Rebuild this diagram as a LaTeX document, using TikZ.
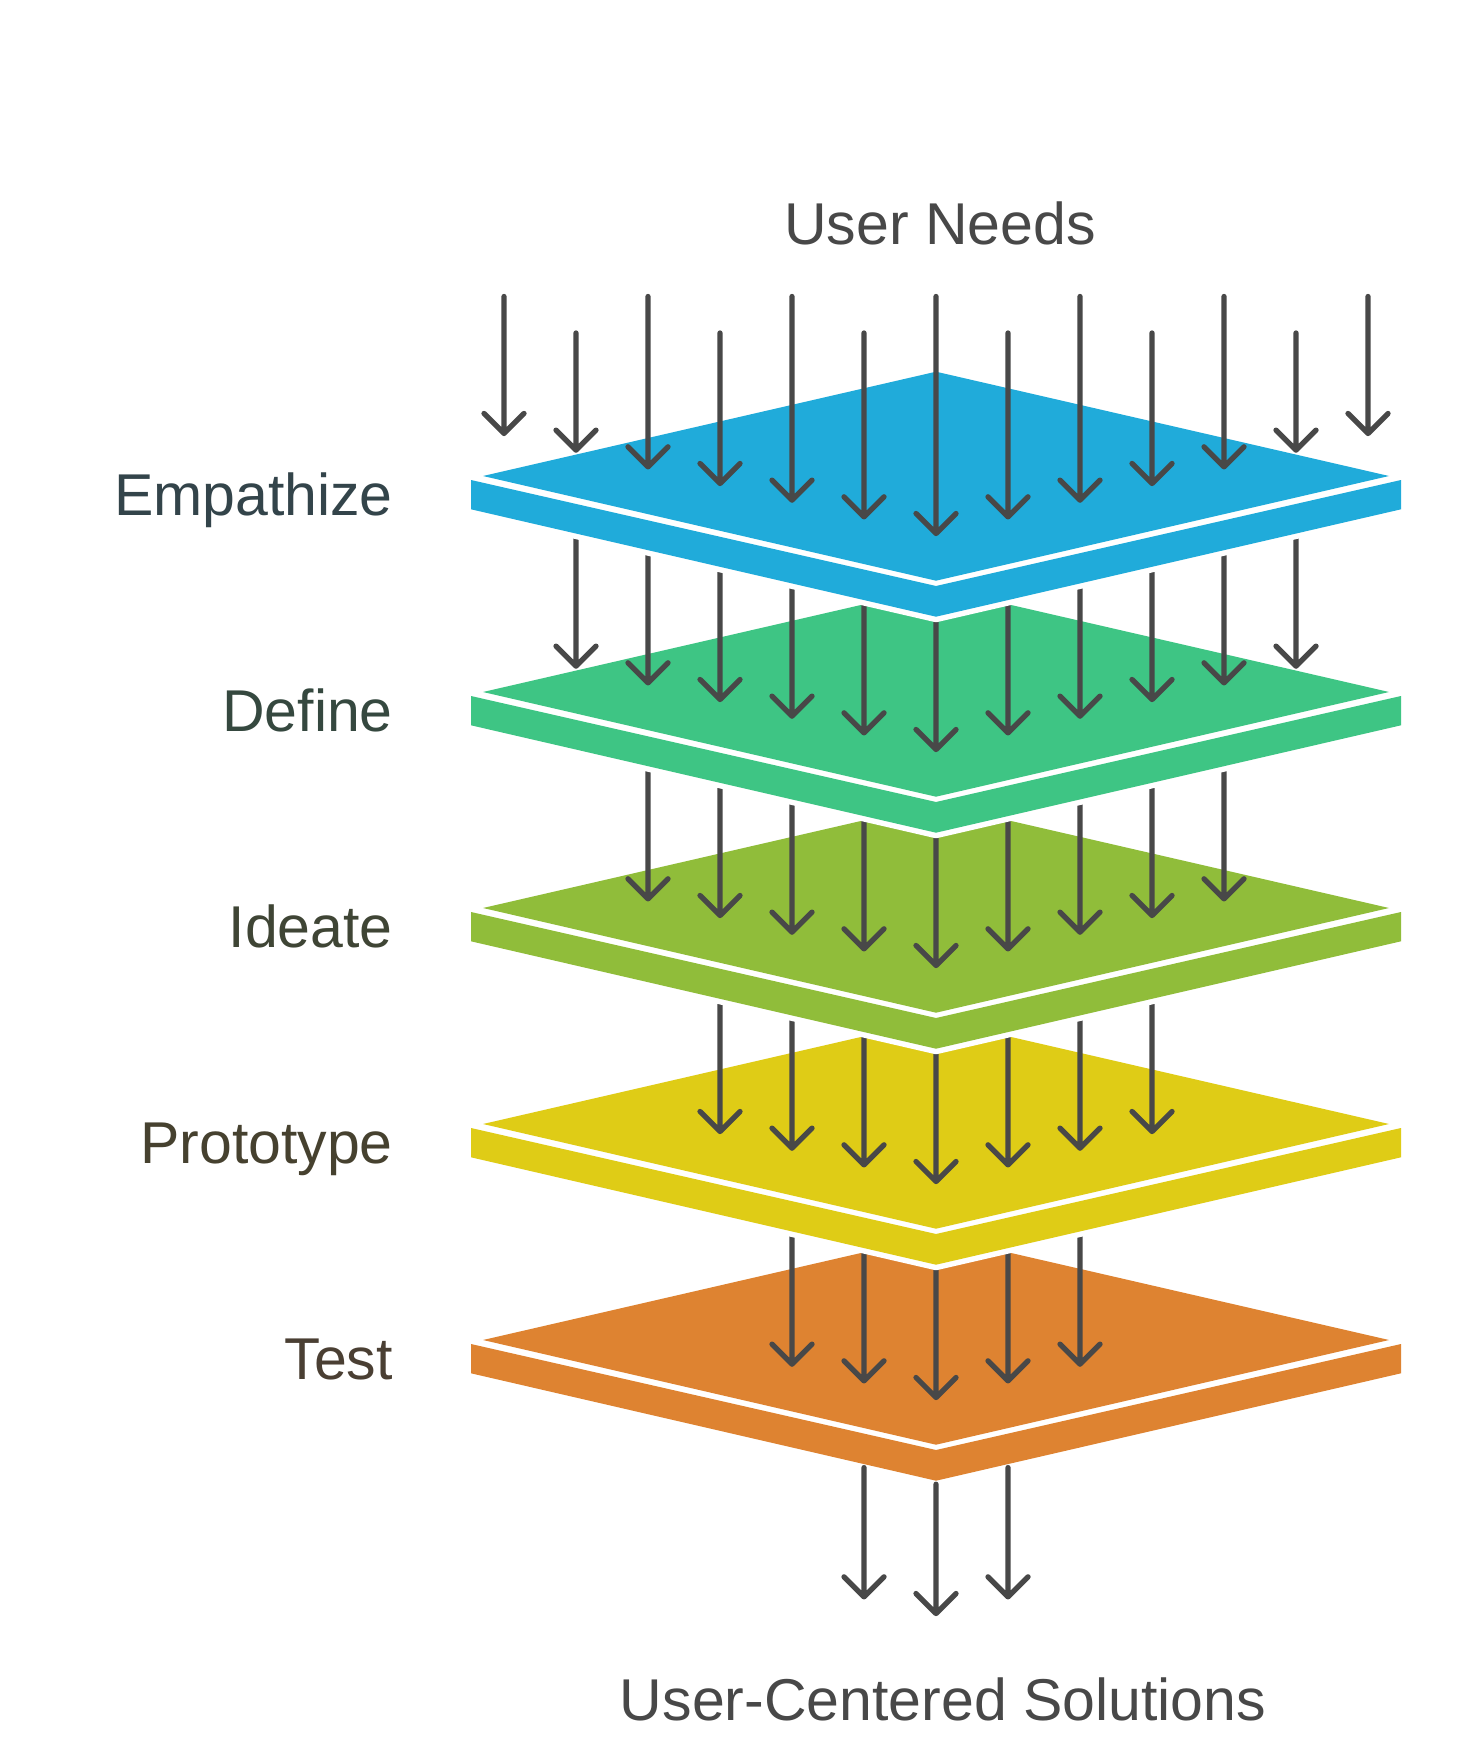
\documentclass[tikz,border=0pt]{standalone}
\usepackage{fontspec}
\setmainfont{Liberation Sans}
\definecolor{cblue}{HTML}{20ABDA}
\definecolor{cgreen}{HTML}{3EC584}
\definecolor{colive}{HTML}{90BD3A}
\definecolor{cyellow}{HTML}{DFCC16}
\definecolor{corange}{HTML}{DE8331}
\definecolor{arrowgray}{HTML}{484848}
\definecolor{tEmp}{HTML}{33444A}
\definecolor{tDef}{HTML}{35483F}
\definecolor{tIde}{HTML}{3F4535}
\definecolor{tPro}{HTML}{46412F}
\definecolor{tTes}{HTML}{4A3F33}
\definecolor{tGray}{HTML}{484848}
\newcommand\drawplate[2]{%
  \fill[white, draw=white, line width=11pt, line join=round]
    (471,480+#1) -- (483,476+#1) -- (936,371.7+#1) -- (1389,476+#1) -- (1401,480+#1)
    -- (1401,509.3+#1) -- (936,616.7+#1) -- (471,509.3+#1) -- cycle;
  \fill[#2] (471,480+#1) -- (936,586+#1) -- (1401,480+#1) -- (1401,509.3+#1)
    -- (936,616.7+#1) -- (471,509.3+#1) -- cycle;
  \fill[#2] (483,476+#1) -- (936,371.7+#1) -- (1389,476+#1) -- (936,580.7+#1) -- cycle;
}
\newcommand\arrowrow[2]{%
  \foreach \j in {-#2,...,#2}{
    \pgfmathsetmacro\arX{936+72*\j}
    \pgfmathsetmacro\arT{533.5+216*#1-16.67*abs(\j)}
    \pgfmathsetmacro\arS{596.7+216*(#1-1)-16.6*abs(\j)}
    \draw[arrowline] (\arX,\arS) -- (\arX,\arT) (\arX-20,\arT-20) -- (\arX,\arT) -- (\arX+20,\arT-20);
  }
}
\begin{document}
\begin{tikzpicture}[x=1pt,y=-1pt,
  arrowline/.style={draw=arrowgray, line width=5.3pt, line cap=round, line join=round},
  lbl/.style={font=\fontsize{59}{70}\selectfont, inner sep=0pt},
]
\useasboundingbox[fill=white] (0,0) rectangle (1476,1752);

% plates from bottom to top, with the arrows landing on each
\drawplate{864}{corange}
\arrowrow{4}{2}
\drawplate{648}{cyellow}
\arrowrow{3}{3}
\drawplate{432}{colive}
\arrowrow{2}{4}
\drawplate{216}{cgreen}
\arrowrow{1}{5}
\drawplate{0}{cblue}

% incoming arrows (User Needs)
\foreach \j in {-6,...,6}{
  \pgfmathsetmacro\arX{936+72*\j}
  \pgfmathsetmacro\arT{533.5-16.67*abs(\j)}
  \pgfmathsetmacro\arS{296.5+36.5*mod(abs(\j),2)}
  \draw[arrowline] (\arX,\arS) -- (\arX,\arT) (\arX-20,\arT-20) -- (\arX,\arT) -- (\arX+20,\arT-20);
}

% outgoing arrows (solutions)
\foreach \j in {-1,0,1}{
  \pgfmathsetmacro\arX{936+72*\j}
  \pgfmathsetmacro\arT{1613.5-16.67*abs(\j)}
  \pgfmathsetmacro\arS{1484.2-16.6*abs(\j)}
  \draw[arrowline] (\arX,\arS) -- (\arX,\arT) (\arX-20,\arT-20) -- (\arX,\arT) -- (\arX+20,\arT-20);
}

% labels
\node[lbl, text=tGray, anchor=base] (userneeds) at (940,245) {User Needs};
\node[lbl, text=tGray, anchor=base] (solutions) at (943,1720) {User-Centered Solutions};
\node[lbl, text=tEmp, anchor=base east] (empathize) at (393,515) {Empathize};
\node[lbl, text=tDef, anchor=base east] (define) at (393,731) {Define};
\node[lbl, text=tIde, anchor=base east] (ideate) at (393,947) {Ideate};
\node[lbl, text=tPro, anchor=base east] (prototype) at (393,1163) {Prototype};
\node[lbl, text=tTes, anchor=base east] (test) at (393,1379) {Test};
\end{tikzpicture}
\end{document}
